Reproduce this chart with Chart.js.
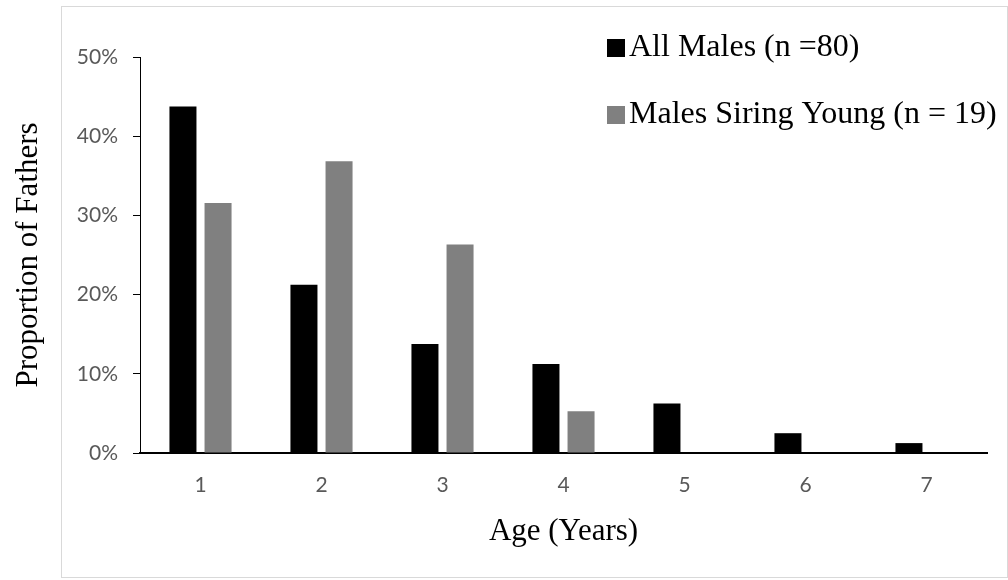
<!DOCTYPE html>
<html>
<head>
<meta charset="utf-8">
<script src="https://cdn.jsdelivr.net/npm/chart.js@4"></script>
<style>
  html, body { margin: 0; padding: 0; background: #fff; }
  #wrap { width: 1008px; height: 580px; }
</style>
</head>
<body>
<div id="wrap"><canvas id="chart" width="1008" height="580"></canvas></div>
<script>
// ages on the x axis
const ages = ['1', '2', '3', '4', '5', '6', '7'];
// proportion of fathers, in percent
const allMales = [43.75, 21.25, 13.75, 11.25, 6.25, 2.5, 1.25];
const siringMales = [31.58, 36.84, 26.32, 5.26, 0, 0, 0];
const seriesNames = ['All Males (n =80)', 'Males Siring Young (n = 19)'];
const yTicks = [0, 10, 20, 30, 40, 50];

const serif = '"Liberation Serif", "Times New Roman", serif';

// light grey frame round the plot, like the Excel chart area
const framePlugin = {
  id: 'frame',
  beforeDraw(chart) {
    const ctx = chart.ctx;
    ctx.save();
    ctx.fillStyle = '#fff';
    ctx.fillRect(0, 0, chart.width, chart.height);
    ctx.strokeStyle = '#d9d9d9';
    ctx.lineWidth = 1;
    ctx.strokeRect(61.5, 6.5, 946, 571);
    ctx.restore();
  }
};

// legend drawn inside the plot, top right
const insideLegend = {
  id: 'insideLegend',
  afterDraw(chart) {
    const ctx = chart.ctx;
    const box = 18;
    const x = 607, baselines = [56, 123];
    ctx.save();
    ctx.font = '32px ' + serif;
    ctx.textBaseline = 'alphabetic';
    ctx.textAlign = 'left';
    chart.data.datasets.forEach((ds, i) => {
      const b = baselines[i];
      ctx.fillStyle = ds.backgroundColor;
      ctx.fillRect(x, b - box + 1, box, box);
      ctx.fillStyle = '#000';
      ctx.fillText(ds.label, x + 22, b);
    });
    ctx.restore();
  }
};

new Chart(document.getElementById('chart'), {
  type: 'bar',
  data: {
    labels: ages,
    datasets: [
      { label: seriesNames[0], data: allMales, backgroundColor: '#000000' },
      { label: seriesNames[1], data: siringMales, backgroundColor: '#808080' }
    ]
  },
  options: {
    responsive: false,
    devicePixelRatio: 1,
    animation: false,
    categoryPercentage: 0.58,
    barPercentage: 0.77,
    layout: { padding: { top: 57, right: 21, bottom: 0, left: 0 } },
    plugins: {
      legend: { display: false },
      tooltip: { enabled: false }
    },
    scales: {
      x: {
        grid: { display: false, drawTicks: false },
        border: { display: true, color: '#000', width: 2 },
        ticks: { color: '#595959', font: { family: 'Lato', size: 21 }, padding: 20 },
        title: {
          display: true,
          text: 'Age (Years)',
          color: '#000',
          font: { family: serif, size: 31 },
          padding: { top: 0, bottom: 30 }
        },
        afterFit(scale) { scale.height = 127; }
      },
      y: {
        min: 0,
        max: 50,
        afterBuildTicks(scale) { scale.ticks = yTicks.map(v => ({ value: v })); },
        grid: { display: true, drawOnChartArea: false, drawTicks: true, tickLength: 7, color: '#000', lineWidth: 1 },
        border: { display: true, color: '#000', width: 1 },
        ticks: {
          color: '#595959',
          font: { family: 'Lato', size: 21 },
          padding: 15,
          callback: v => v + '%'
        },
        title: {
          display: true,
          text: 'Proportion of Fathers',
          color: '#000',
          font: { family: serif, size: 31 },
          padding: { top: 10, bottom: 0 }
        },
        afterFit(scale) { scale.width = 140; }
      }
    }
  },
  plugins: [framePlugin, insideLegend]
});
</script>
</body>
</html>
